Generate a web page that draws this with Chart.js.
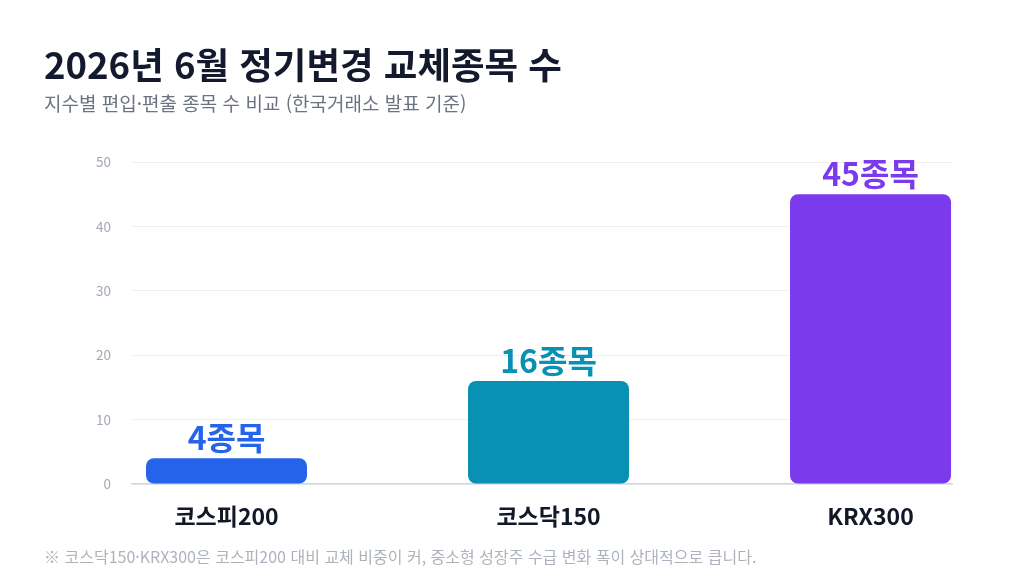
<!DOCTYPE html>
<html lang="ko">
<head>
<meta charset="utf-8">
<script src="https://cdn.jsdelivr.net/npm/chart.js@4"></script>
<style>
  html,body{margin:0;padding:0;background:#fff;width:1024px;height:585px;overflow:hidden;font-family:"Noto Sans CJK KR","Noto Sans",sans-serif;}
  #wrap{position:relative;width:1024px;height:585px;}
  #title{position:absolute;left:44px;top:41px;font-size:36.5px;font-weight:700;color:#141a2e;line-height:46px;white-space:nowrap;}
  #sub{position:absolute;left:44px;top:90px;font-size:19px;font-weight:400;color:#6b7280;line-height:26px;white-space:nowrap;}
  #note{position:absolute;left:44px;top:544px;font-size:16px;font-weight:400;color:#adb3bd;line-height:24px;white-space:nowrap;}
  #cv{position:absolute;left:0;top:0;}
</style>
</head>
<body>
<div id="wrap">
  <canvas id="cv" width="1024" height="585"></canvas>
  <div id="title">2026년 6월 정기변경 교체종목 수</div>
  <div id="sub">지수별 편입·편출 종목 수 비교 (한국거래소 발표 기준)</div>
  <div id="note">※ 코스닥150·KRX300은 코스피200 대비 교체 비중이 커, 중소형 성장주 수급 변화 폭이 상대적으로 큽니다.</div>
</div>
<script>
const categories = ["코스피200", "코스닥150", "KRX300"];
const counts = [4, 16, 45];
const barColors = ["#2563eb", "#0891b2", "#7c3aed"];
const yTicks = [0, 10, 20, 30, 40, 50];
const unitLabel = "종목";

const FONT = '"Noto Sans CJK KR","Noto Sans",sans-serif';

const valueLabels = {
  id: 'valueLabels',
  afterDatasetsDraw(chart) {
    const ctx = chart.ctx;
    const meta = chart.getDatasetMeta(0);
    ctx.save();
    ctx.font = '700 32px ' + FONT;
    ctx.textAlign = 'center';
    ctx.textBaseline = 'alphabetic';
    meta.data.forEach((bar, i) => {
      ctx.fillStyle = barColors[i];
      ctx.fillText(counts[i] + unitLabel, bar.x, bar.y - 8);
    });
    ctx.restore();
  }
};

new Chart(document.getElementById('cv'), {
  type: 'bar',
  data: {
    datasets: [{
      data: counts.map((v, i) => ({ x: i, y: v })),
      backgroundColor: barColors,
      borderRadius: 8,
      borderSkipped: false,
      categoryPercentage: 0.5,
      barPercentage: 1.0
    }]
  },
  options: {
    responsive: false,
    animation: false,
    devicePixelRatio: 1,
    layout: { padding: { top: 162, right: 72, left: 0, bottom: 0 } },
    plugins: { legend: { display: false }, tooltip: { enabled: false } },
    scales: {
      x: {
        type: 'linear',
        offset: false,
        min: -0.2935,
        max: 2.253,
        afterFit(scale) { scale.height = 101; },
        grid: { display: false, drawTicks: false, offset: false },
        border: { display: true, color: '#cfd5e1', width: 1.5 },
        ticks: {
          stepSize: 1,
          includeBounds: false,
          autoSkip: false,
          maxRotation: 0,
          padding: 18,
          color: '#111827',
          font: { family: FONT, size: 23, weight: '700' },
          callback: (v) => Number.isInteger(v) && categories[v] !== undefined ? categories[v] : ''
        }
      },
      y: {
        min: yTicks[0],
        max: yTicks[yTicks.length - 1],
        afterFit(scale) { scale.width = 132; },
        afterBuildTicks(scale) { scale.ticks = yTicks.map(v => ({ value: v })); },
        grid: { color: '#eef0f4', lineWidth: 1, drawTicks: false },
        border: { display: false },
        ticks: {
          padding: 21,
          color: '#a3a9b4',
          font: { family: FONT, size: 13.5 }
        }
      }
    }
  },
  plugins: [valueLabels]
});
</script>
</body>
</html>
